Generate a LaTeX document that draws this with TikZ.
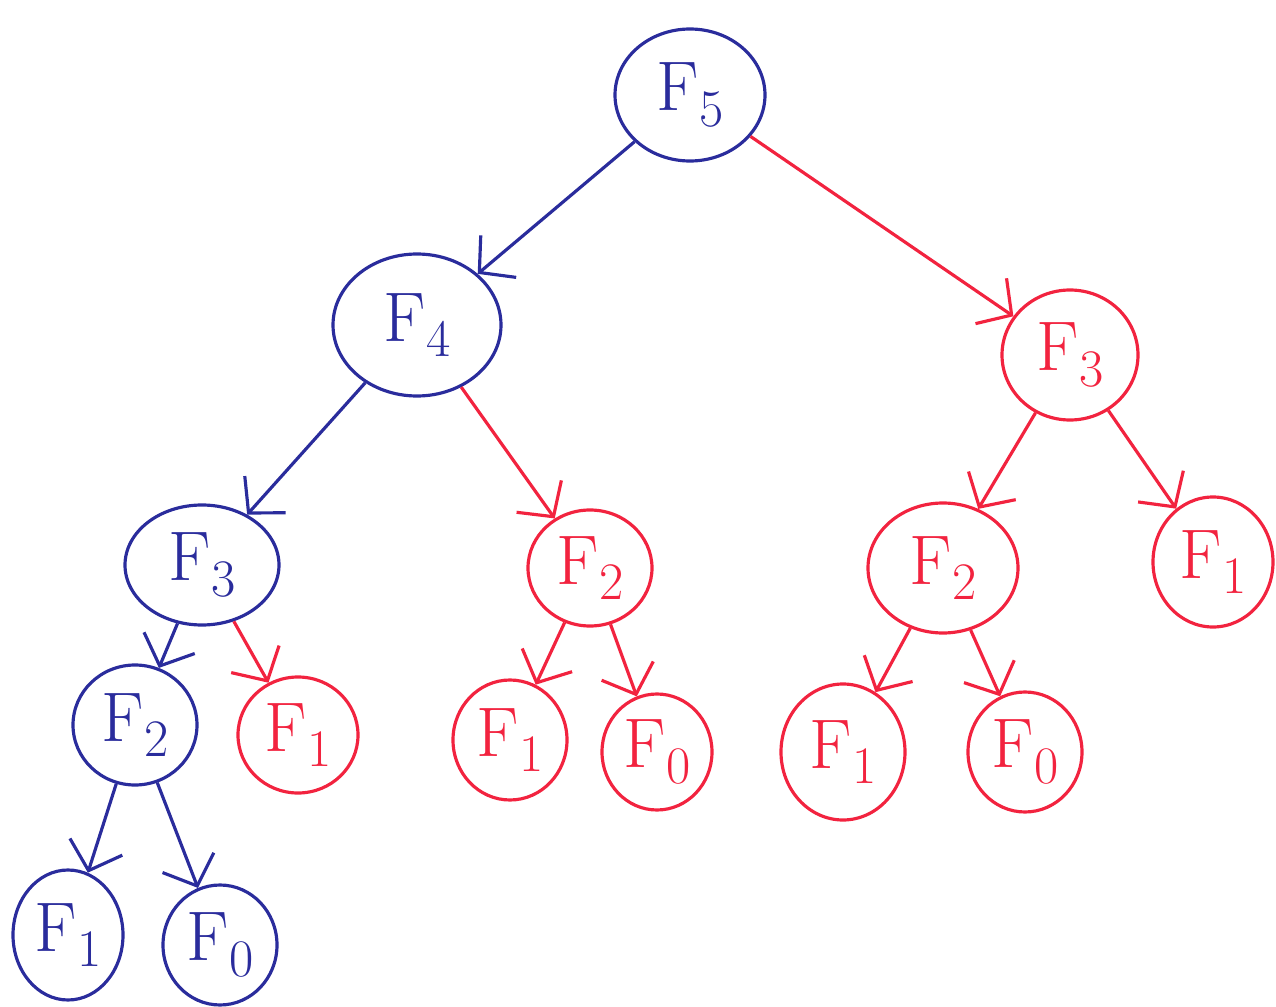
\documentclass[tikz,border=0pt]{standalone}
\usepackage{tikz}
\usetikzlibrary{arrows.meta,shapes.geometric}
\definecolor{pblue}{HTML}{2A2C9C}
\definecolor{pred}{HTML}{F2233F}
\newdimen\px \px=0.02cm
\tikzset{
  % Hand-drawn call node, stroke and text in one hue.
  call/.style    = {ellipse, draw=#1, text=#1, line width=1.8pt, inner sep=0pt,
                    font=\fontsize{40}{42}\selectfont},
  call/.default  = pblue,
  edge/.style    = {-{Straight Barb[length=5mm,width=11mm,line width=1.8pt]},
                    line width=1.8pt, #1},
  edge/.default  = pblue,
}
\newcommand{\fib}[1]{F\raisebox{-0.5ex}{\fontsize{30}{32}\selectfont #1}}
\begin{document}
\begin{tikzpicture}[x=0.02cm,y=-0.02cm]
\useasboundingbox (0,0) rectangle (1276,1007);
% level 0 and 1
\node[call, minimum width=150\px, minimum height=132\px] (f5) at (690,95)  {\fib{5}};
\node[call, minimum width=168\px, minimum height=142\px] (f4) at (417,325) {\fib{4}};
\node[call=pred, minimum width=136\px, minimum height=130\px] (g3) at (1070,355) {\fib{3}};

% level 2
\node[call, minimum width=154\px, minimum height=120\px] (f3) at (202,565) {\fib{3}};
\node[call=pred, minimum width=124\px, minimum height=116\px] (h2) at (590,568) {\fib{2}};
\node[call=pred, minimum width=150\px, minimum height=130\px] (g2) at (943,568) {\fib{2}};
\node[call=pred, minimum width=120\px, minimum height=130\px] (g1) at (1213,562) {\fib{1}};

% level 3
\node[call, minimum width=124\px, minimum height=120\px] (f2) at (135,725) {\fib{2}};
\node[call=pred, minimum width=120\px, minimum height=116\px] (k1) at (298,735) {\fib{1}};
\node[call=pred, minimum width=114\px, minimum height=120\px] (h1) at (510,740) {\fib{1}};
\node[call=pred, minimum width=110\px, minimum height=116\px] (h0) at (657,752) {\fib{0}};
\node[call=pred, minimum width=124\px, minimum height=136\px] (m1) at (843,752) {\fib{1}};
\node[call=pred, minimum width=114\px, minimum height=120\px] (m0) at (1025,752) {\fib{0}};

% level 4
\node[call, minimum width=110\px, minimum height=130\px] (f1) at (68,935)  {\fib{1}};
\node[call, minimum width=114\px, minimum height=120\px] (f0) at (220,945) {\fib{0}};

% first calls in blue, repeated calls in red
\foreach \a/\b in {f5/f4,f4/f3,f3/f2,f2/f1,f2/f0} {\draw[edge] (\a) -- (\b);}
\foreach \a/\b in {f5/g3,f4/h2,g3/g2,g3/g1,f3/k1,h2/h1,h2/h0,g2/m1,g2/m0}
  {\draw[edge=pred] (\a) -- (\b);}
\end{tikzpicture}
\end{document}
